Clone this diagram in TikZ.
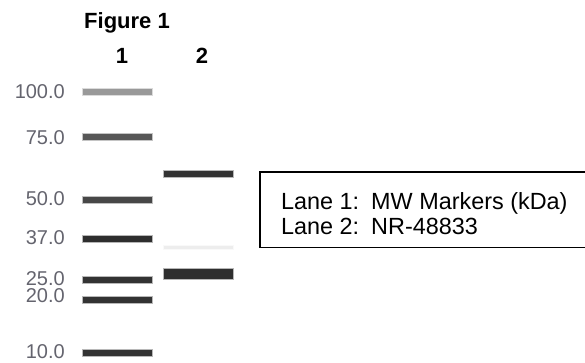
\documentclass[tikz,border=0pt]{standalone}
\usepackage{fontspec}
\setmainfont{Liberation Sans}
\usetikzlibrary{positioning}
\definecolor{labelgray}{RGB}{100,100,110}

\begin{document}
\begin{tikzpicture}[x=1pt,y=-1pt,
  band/.style={rectangle,inner sep=0pt,minimum width=69pt,minimum height=6pt,fill=black!#1,draw=black!#1,draw opacity=0.35,line width=2pt},
  mw/.style={font=\fontsize{20}{20}\selectfont,text=labelgray,inner sep=0pt},
  lanenum/.style={font=\fontsize{22}{22}\selectfont\bfseries,inner sep=0pt},
  keytext/.style={font=\fontsize{23.4}{23.4}\selectfont,inner sep=0pt,anchor=base west}]
\useasboundingbox (0,0) rectangle (585,362);

% title and lane numbers
\node[lanenum,anchor=base] (title) at (127,28) {Figure 1};
\node[lanenum,anchor=base] (lane1) at (122,63) {1};
\node[lanenum,anchor=base] (lane2) at (202,63) {2};

% lane 1: markers
\node[band=40] (m100) at (117.5,92) {};
\node[band=66] (m75)  at (117.5,137) {};
\node[band=72] (m50)  at (117.5,200) {};
\node[band=82] (m37)  at (117.5,239) {};
\node[band=80] (m25)  at (117.5,280) {};
\node[band=80] (m20)  at (117.5,300) {};
\node[band=80] (m10)  at (117.5,353) {};

\node[mw,left=17pt of m100] (t100) {100.0};
\node[mw,left=17pt of m75,yshift=-1pt] (t75) {75.0};
\node[mw,left=17pt of m50,yshift=1.5pt] (t50) {50.0};
\node[mw,left=17pt of m37,yshift=1.5pt] (t37) {37.0};
\node[mw,left=17pt of m25,yshift=1.5pt] (t25) {25.0};
\node[mw,left=17pt of m20,yshift=4pt] (t20) {20.0};
\node[mw,left=17pt of m10,yshift=1.5pt] (t10) {10.0};

% lane 2: sample
\node[band=80] (s62) at (198.5,174) {};
\node[band=7,minimum height=3pt] (sfaint) at (198.5,247) {};
\node[band=82,minimum height=10pt] (s27) at (198.5,274) {};

% key (runs off the right edge)
\node[minimum width=340pt,minimum height=75pt,anchor=north west] (key) at (260,172) {};
\draw[line width=1.5pt] (key.north east) -- (key.north west) -- (key.south west) -- (key.south east);
\node[keytext] (key1) at (281,209) {Lane 1:\hspace{12pt}MW Markers (kDa)};
\node[keytext] (key2) at (281,234) {Lane 2:\hspace{12pt}NR-48833};
\end{tikzpicture}
\end{document}
